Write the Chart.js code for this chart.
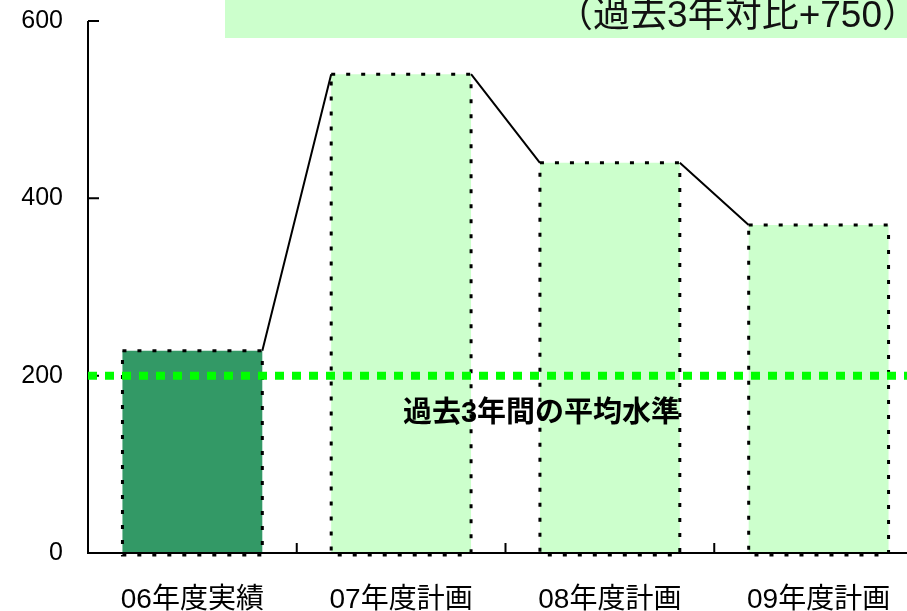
<!DOCTYPE html>
<html>
<head>
<meta charset="utf-8">
<script src="https://cdn.jsdelivr.net/npm/chart.js@4/dist/chart.umd.min.js"></script>
<style>
  html, body { margin: 0; padding: 0; background: #fff; overflow: hidden; }
  canvas { display: block; }
</style>
</head>
<body>
<canvas id="chart" width="923" height="611"></canvas>
<script>
// Fiscal-year categories and amounts
const categories = ['06年度実績', '07年度計画', '08年度計画', '09年度計画'];
const values = [228, 540, 440, 370];
const yTicks = [0, 200, 400, 600];
const averageLevel = 200;
const averageLabel = '過去3年間の平均水準';
const comparisonLabel = '（過去3年対比+750）';

// Styling
const barFill = ['#339966', '#CCFFCC', '#CCFFCC', '#CCFFCC'];
const FONT = '"Liberation Sans", "Noto Sans CJK JP", sans-serif';

const overlay = {
  id: 'overlay',
  afterDatasetsDraw(chart) {
    const ctx = chart.ctx;
    const xs = chart.scales.x, ys = chart.scales.y;
    const area = chart.chartArea;
    const bars = chart.getDatasetMeta(0).data.map(el => el.getProps(['x', 'y', 'base', 'width'], true));
    ctx.save();

    // dotted outlines round each bar
    ctx.strokeStyle = '#000';
    ctx.lineWidth = 3;
    ctx.setLineDash([4, 11]);
    bars.forEach(b => {
      ctx.strokeRect(b.x - b.width / 2, b.y, b.width, b.base - b.y + 2);
    });
    ctx.setLineDash([]);

    // connectors from one bar's top-right corner to the next bar's top-left
    ctx.lineWidth = 2;
    ctx.beginPath();
    for (let i = 0; i < bars.length - 1; i++) {
      ctx.moveTo(bars[i].x + bars[i].width / 2, bars[i].y);
      ctx.lineTo(bars[i + 1].x - bars[i + 1].width / 2, bars[i + 1].y);
    }
    ctx.stroke();

    // axis lines with inward tick marks
    ctx.lineWidth = 2;
    ctx.beginPath();
    ctx.moveTo(area.left, area.top);
    ctx.lineTo(area.left, area.bottom);
    ctx.lineTo(chart.width, area.bottom);
    yTicks.forEach(v => {
      const py = ys.getPixelForValue(v);
      ctx.moveTo(area.left, py);
      ctx.lineTo(area.left + 11, py);
    });
    for (let i = 1; i < categories.length; i++) {
      const px = (xs.getPixelForValue(i - 1) + xs.getPixelForValue(i)) / 2;
      ctx.moveTo(px, area.bottom);
      ctx.lineTo(px, area.bottom - 10);
    }
    ctx.stroke();

    // average level line
    const ay = ys.getPixelForValue(averageLevel);
    ctx.strokeStyle = '#00FF00';
    ctx.lineWidth = 8;
    ctx.setLineDash([9, 8]);
    ctx.beginPath();
    ctx.moveTo(area.left, ay);
    ctx.lineTo(chart.width, ay);
    ctx.stroke();
    ctx.setLineDash([]);

    ctx.fillStyle = '#000';
    ctx.font = 'bold 29px ' + FONT;
    ctx.textAlign = 'center';
    ctx.textBaseline = 'alphabetic';
    const mid = (xs.getPixelForValue(1) + xs.getPixelForValue(2)) / 2;
    ctx.fillText(averageLabel, mid + 36, ay + 46);

    // comparison note banner at the top
    ctx.fillStyle = '#CCFFCC';
    ctx.fillRect(225, 0, chart.width - 225, 38);
    ctx.fillStyle = '#111';
    ctx.font = '37px ' + FONT;
    ctx.textAlign = 'right';
    ctx.fillText(comparisonLabel, 919, 27);

    ctx.restore();
  }
};

new Chart(document.getElementById('chart'), {
  type: 'bar',
  data: {
    labels: categories,
    datasets: [{
      data: values,
      backgroundColor: barFill,
      borderWidth: 0,
      categoryPercentage: 1,
      barPercentage: 0.67
    }]
  },
  options: {
    responsive: false,
    animation: false,
    devicePixelRatio: 1,
    layout: { padding: { top: 21, right: 0, left: 0, bottom: 0 } },
    plugins: { legend: { display: false }, tooltip: { enabled: false } },
    scales: {
      x: {
        grid: { display: false, drawTicks: false },
        border: { display: false },
        ticks: { color: '#000', font: { family: FONT, size: 28 }, padding: 30, maxRotation: 0 },
        afterFit(s) { s.height = 58; s.paddingLeft = 0; s.paddingRight = 0; }
      },
      y: {
        min: 0,
        max: 600,
        afterBuildTicks(s) { s.ticks = yTicks.map(v => ({ value: v })); },
        grid: { display: false, drawTicks: false },
        border: { display: false },
        ticks: { color: '#000', font: { family: FONT, size: 25 }, padding: 25 },
        afterFit(s) { s.width = 88; s.paddingTop = 0; s.paddingBottom = 0; }
      }
    }
  },
  plugins: [overlay]
});
</script>
</body>
</html>
